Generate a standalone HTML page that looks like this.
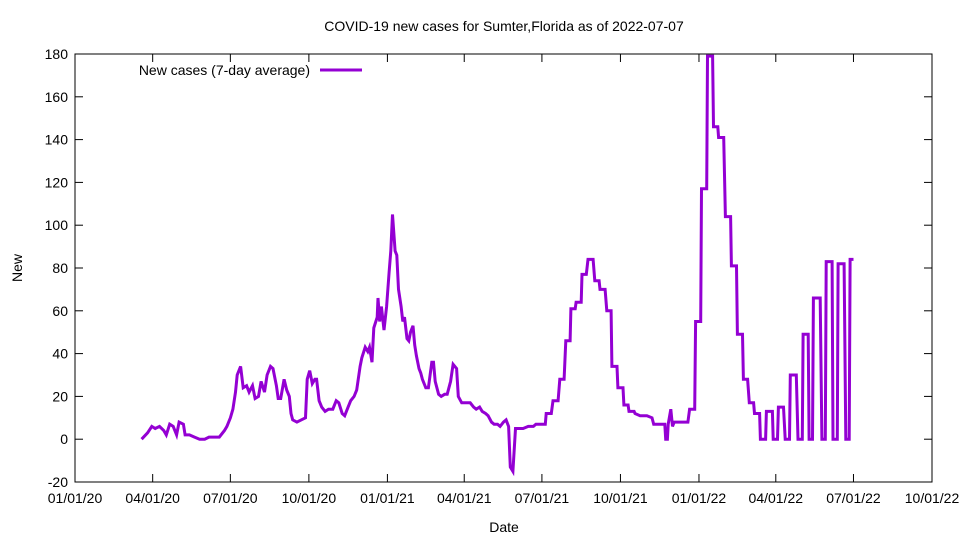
<!DOCTYPE html>
<html><head><meta charset="utf-8"><style>
body{margin:0;background:#fff}
svg text{font-family:"Liberation Sans",sans-serif;font-size:14px;fill:#000}
</style></head><body>
<svg id="chart" width="960" height="540" xmlns="http://www.w3.org/2000/svg">
<text x="504" y="31" text-anchor="middle">COVID-19 new cases for Sumter,Florida as of 2022-07-07</text>
<text x="504" y="532" text-anchor="middle">Date</text>
<text x="22" y="268" text-anchor="middle" transform="rotate(-90 22 268)">New</text>
<g id="axes"></g>
<rect x="75" y="54" width="857" height="428" fill="none" stroke="#000" stroke-width="1"/>
<g>
<text x="310" y="75" text-anchor="end">New cases (7-day average)</text>
<line x1="320" y1="70" x2="362" y2="70" stroke="#9400d3" stroke-width="3"/>
</g>
<path id="series" fill="none" stroke="#9400d3" stroke-width="3" stroke-linejoin="miter"/>
</svg>
<script>
const days=[78,85,90,94,99,104,107,111,115,119,122,127,129,134,140,146,152,157,163,169,175,178,182,185,188,190,194,197,201,204,208,211,215,218,222,225,229,232,236,238,241,245,248,251,253,255,260,265,270,272,275,278,281,283,286,289,293,297,302,306,309,313,316,320,323,327,330,334,336,340,343,345,348,350,354,355,357,359,362,365,368,370,372,375,377,379,382,384,386,389,391,393,396,398,400,403,405,407,411,414,418,420,422,426,429,433,436,440,443,447,449,453,456,460,463,467,470,474,477,481,484,488,491,495,498,502,505,508,510,513,516,519,525,531,537,540,543,551,552,558,560,566,568,573,575,580,581,586,587,593,594,599,601,607,609,614,615,621,623,628,629,635,636,642,643,648,649,655,656,662,670,676,678,691,692,694,695,698,700,702,718,720,726,727,733,734,740,741,747,748,753,754,760,762,768,769,775,776,782,783,788,790,795,796,802,803,809,810,817,818,823,824,830,832,837,838,845,847,852,853,859,860,864,865,873,875,879,880,887,888,893,894,901,903,907,908,912];
const values=[0,3,6,5,6,4,2,7,6,2,8,7,2,2,1,0,0,1,1,1,4,6,10,14,22,30,34,24,25,22,25,19,20,27,22,30,34,33,25,19,19,28,23,20,12,9,8,9,10,28,32,26,28,28,18,15,13,14,14,18,17,12,11,15,18,20,23,34,38,43,41,43,36,52,57,66,55,62,51,62,78,88,105,88,86,70,62,55,57,47,46,50,53,44,39,33,31,28,24,24,36,36,27,21,20,21,21,27,35,33,20,17,17,17,17,15,14,15,13,12,11,8,7,7,6,8,9,6,-13,-15,5,5,5,6,6,7,7,7,12,12,18,18,28,28,46,46,61,61,64,64,77,77,84,84,74,74,70,70,60,60,34,34,24,24,16,16,13,13,12,11,11,10,7,7,0,0,7,14,6,8,8,14,14,55,55,117,117,179,179,146,146,141,141,104,104,81,81,49,49,28,28,17,17,12,12,0,0,13,13,0,0,15,15,0,0,30,30,0,0,49,49,0,0,66,66,0,0,83,83,0,0,82,82,0,0,84,84];
const xTickDays=[0,91,182,274,366,456,547,639,731,821,912,1004];
const xTickLabels=["01/01/20","04/01/20","07/01/20","10/01/20","01/01/21","04/01/21","07/01/21","10/01/21","01/01/22","04/01/22","07/01/22","10/01/22"];
const yTicks=[-20,0,20,40,60,80,100,120,140,160,180];
const X0=75,X1=932,Y0=482,Y1=54,DMAX=1004,VMIN=-20,VMAX=180;
function xs(d){return X0+(d/DMAX)*(X1-X0);}
function ys(v){return Y0-(v-VMIN)/(VMAX-VMIN)*(Y0-Y1);}
const NS="http://www.w3.org/2000/svg";
const axes=document.getElementById('axes');
function mk(tag,attrs){const e=document.createElementNS(NS,tag);for(const k in attrs)e.setAttribute(k,attrs[k]);return e;}
yTicks.forEach(v=>{
  const y=ys(v);
  const t1=mk('line',{x1:X0,y1:y,x2:X0+8,y2:y,stroke:'#000'});
  
  
  axes.appendChild(t1);
  const t2=mk('line',{x1:X1-8,y1:y,x2:X1,y2:y,stroke:'#000'});
  
  
  axes.appendChild(t2);
  const tx=mk('text',{x:X0-7,y:y+5,'text-anchor':'end'});
  tx.textContent=v;
  
  
  axes.appendChild(tx);
});
xTickDays.forEach((d,i)=>{
  const x=xs(d);
  const t1=mk('line',{x1:x,y1:Y0,x2:x,y2:Y0-8,stroke:'#000'});
  
  
  axes.appendChild(t1);
  const t2=mk('line',{x1:x,y1:Y1,x2:x,y2:Y1+8,stroke:'#000'});
  
  
  axes.appendChild(t2);
  const tx=mk('text',{x:x,y:Y0+21,'text-anchor':'middle'});
  tx.textContent=xTickLabels[i];
  
  
  axes.appendChild(tx);
});
let dstr='';
days.forEach((d,i)=>{dstr+=(i?'L':'M')+xs(d).toFixed(1)+','+ys(values[i]).toFixed(1);});
document.getElementById('series').setAttribute('d',dstr);
</script>
</body></html>
